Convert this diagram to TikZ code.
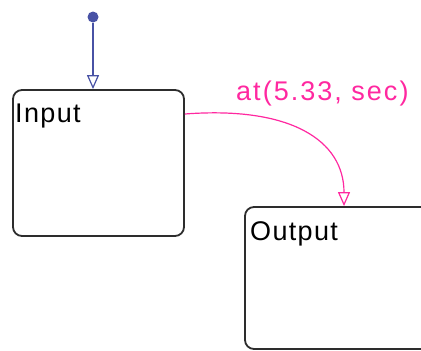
\documentclass[tikz,border=0pt]{standalone}
\usepackage{fontspec}
\setmainfont{Liberation Sans}
\usetikzlibrary{arrows.meta,positioning,calc}

\definecolor{chartblue}{RGB}{72,82,165}
\definecolor{chartpink}{RGB}{255,40,160}
\definecolor{chartgray}{RGB}{45,45,45}

\begin{document}
\begin{tikzpicture}[x=1pt, y=-1pt,
    state/.style={rectangle, draw=chartgray, line width=1.8pt, rounded corners=9pt, inner sep=0pt},
    statename/.style={anchor=base west, inner sep=0pt, font=\fontsize{27}{30}\selectfont\addfontfeature{LetterSpace=5}},
    deflt/.style={draw=chartblue, line width=1.2pt, -{Triangle[open, length=14pt, width=12pt]}},
    trans/.style={draw=chartpink, line width=1.2pt, -{Triangle[open, length=14pt, width=12pt]}}]

    \useasboundingbox (0,0) rectangle (421,351);
    \clip (0,0) rectangle (421,351);

    % states
    \node [state, minimum width=171pt, minimum height=146pt] (input) at (98.5,163) {};
    \node [state, minimum width=198pt, minimum height=142pt] (output) at (344,278) {};
    \node [statename] (inputname) at (15,122) {Input};
    \node [statename] (outputname) at (250,240) {Output};

    % default transition
    \node [circle, fill=chartblue, inner sep=0pt, minimum size=11pt] (dot) at (93,17) {};
    \draw [deflt] (dot) -- (dot |- input.north);

    % timed transition
    \coordinate (exit) at (input.east |- 0,114);
    \draw [trans] (exit) .. controls (290,106) and (344,140) .. (output.north);
    \node [anchor=base west, inner sep=0pt, text=chartpink, font=\fontsize{27}{30}\selectfont\addfontfeature{LetterSpace=7.5}] (guard) at (236,100) {at(5.33, sec)};
\end{tikzpicture}
\end{document}
